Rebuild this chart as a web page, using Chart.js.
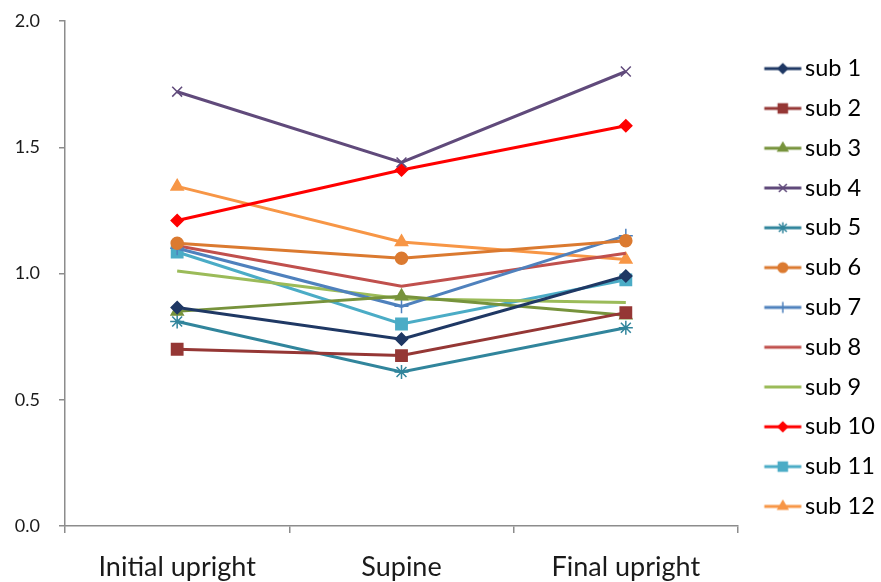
<!DOCTYPE html>
<html>
<head>
<meta charset="utf-8">
<script src="https://cdn.jsdelivr.net/npm/chart.js@4/dist/chart.umd.min.js"></script>
<style>
  html, body { margin: 0; padding: 0; background: #ffffff; }
  #wrap { width: 881px; height: 582px; }
</style>
</head>
<body>
<div id="wrap"><canvas id="c" width="881" height="582"></canvas></div>
<script>
// Measurement positions
const positions = ['Initial upright', 'Supine', 'Final upright'];

// Per-subject values at each position
const sub1  = [0.865, 0.740, 0.990];
const sub2  = [0.700, 0.675, 0.845];
const sub3  = [0.850, 0.910, 0.835];
const sub4  = [1.720, 1.440, 1.800];
const sub5  = [0.810, 0.610, 0.785];
const sub6  = [1.120, 1.060, 1.130];
const sub7  = [1.100, 0.870, 1.150];
const sub8  = [1.110, 0.950, 1.080];
const sub9  = [1.010, 0.900, 0.885];
const sub10 = [1.210, 1.410, 1.585];
const sub11 = [1.085, 0.800, 0.975];
const sub12 = [1.345, 1.125, 1.055];

const yTicks = [0, 0.5, 1.0, 1.5, 2.0];

const FONT = "Lato, 'Open Sans', 'Noto Sans', sans-serif";

// label, values, colour, marker style, marker radius
const series = [
  ['sub 1',  sub1,  '#1F3864', 'rectRot',   6],
  ['sub 2',  sub2,  '#953735', 'rect',      8],
  ['sub 3',  sub3,  '#77933C', 'triangle',  7],
  ['sub 4',  sub4,  '#604A7B', 'crossRot',  7],
  ['sub 5',  sub5,  '#31859C', 'star',      7],
  ['sub 6',  sub6,  '#DB7A30', 'circle',    6],
  ['sub 7',  sub7,  '#4F81BD', 'cross',     7],
  ['sub 8',  sub8,  '#C0504D', false,       0],
  ['sub 9',  sub9,  '#9BBB59', false,       0],
  ['sub 10', sub10, '#FF0000', 'rectRot',   6],
  ['sub 11', sub11, '#4BACC6', 'rect',      8],
  ['sub 12', sub12, '#F79646', 'triangle',  7]
];

// Legend swatch: short line with the series marker in the middle
function makeSwatch(color, style, radius) {
  const cv = document.createElement('canvas');
  cv.width = 60; cv.height = 18;
  const ctx = cv.getContext('2d');
  ctx.strokeStyle = color;
  ctx.lineWidth = 3;
  ctx.beginPath();
  ctx.moveTo(20.5, 9); ctx.lineTo(57.5, 9);
  ctx.stroke();
  if (style) {
    ctx.fillStyle = color;
    ctx.lineWidth = 1.5;
    Chart.helpers.drawPoint(ctx, {pointStyle: style, radius: radius, borderWidth: 1.5}, 39, 9);
  }
  return cv;
}

const datasets = series.map(([label, data, color, style, r]) => ({
  label: label,
  data: data,
  borderColor: color,
  backgroundColor: color,
  borderWidth: 3,
  pointStyle: style,
  pointRadius: style ? r : 0,
  pointHoverRadius: style ? r : 0,
  pointBorderWidth: 1.5,
  tension: 0,
  fill: false
}));

const legendWidth = 881 - 738;
const legendShift = -14;

const layoutPlugin = {
  id: 'legendPlacement',
  beforeInit(chart) {
    const lg = chart.legend;
    if (lg) {
      const orig = lg.fit;
      lg.fit = function () {
        orig.call(this);
        this.width = legendWidth;
        this.right = this.left + legendWidth;
      };
    }
  },
  afterLayout(chart) {
    const lg = chart.legend;
    if (lg) {
      lg.top += legendShift;
      lg.bottom += legendShift;
    }
  }
};

new Chart(document.getElementById('c'), {
  type: 'line',
  data: { labels: positions, datasets: datasets },
  plugins: [layoutPlugin],
  options: {
    responsive: false,
    animation: false,
    events: [],
    layout: { padding: { top: 21, bottom: 0, left: 0, right: 0 } },
    plugins: {
      tooltip: { enabled: false },
      legend: {
        position: 'right',
        align: 'center',
        labels: {
          usePointStyle: true,
          pointStyleWidth: 39,
          padding: 16.3,
          color: '#000000',
          font: { family: FONT, size: 23.5 },
          generateLabels(chart) {
            return chart.data.datasets.map((ds, i) => ({
              text: ds.label,
              pointStyle: makeSwatch(series[i][2], series[i][3], series[i][4] * 0.8),
              fillStyle: ds.borderColor,
              strokeStyle: ds.borderColor,
              lineWidth: 0,
              hidden: false,
              datasetIndex: i,
              fontColor: '#000000'
            }));
          }
        }
      }
    },
    scales: {
      x: {
        type: 'category',
        offset: true,
        afterFit(scale) { scale.height = 56; },
        border: { display: true, color: '#8c8c8c', width: 1.5 },
        grid: {
          display: true,
          offset: true,
          drawOnChartArea: false,
          drawTicks: true,
          tickLength: 7,
          color: '#8c8c8c',
          lineWidth: 1.5
        },
        ticks: {
          color: '#1a1a1a',
          font: { family: FONT, size: 27 },
          padding: 18,
          maxRotation: 0
        }
      },
      y: {
        min: 0,
        max: 2,
        afterBuildTicks(scale) { scale.ticks = yTicks.map(v => ({ value: v })); },
        afterFit(scale) {
          scale.width = 65;
          scale.paddingTop = 0;
          scale.paddingBottom = 0;
        },
        border: { display: true, color: '#8c8c8c', width: 1.5 },
        grid: {
          display: true,
          drawOnChartArea: false,
          drawTicks: true,
          tickLength: 6,
          color: '#8c8c8c',
          lineWidth: 1.5
        },
        ticks: {
          color: '#1a1a1a',
          font: { family: FONT, size: 18 },
          padding: 19,
          callback: v => Number(v).toFixed(1)
        }
      }
    }
  }
});
</script>
</body>
</html>
